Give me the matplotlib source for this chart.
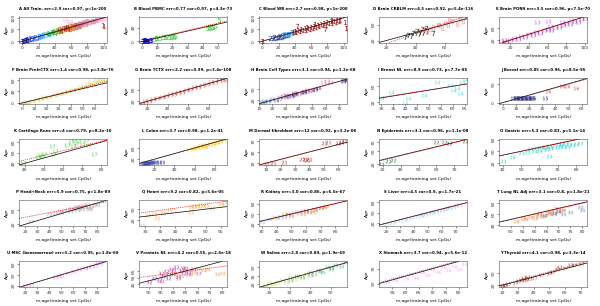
import matplotlib
matplotlib.use('Agg')
import matplotlib.pyplot as plt

# panel titles
titles = [
    'A All Train. err=2.9 cor=0.97, p<1e-200',
    'B Blood PBMC err=0.77 cor=0.97, p=4.3e-73',
    'C Blood WB err=2.7 cor=0.98, p<1e-200',
    'D Brain CRBLM err=4.5 cor=0.92, p=5.4e-116',
    'E Brain PONS err=3.5 cor=0.96, p=7.5e-70',
    'F Brain PrefrCTX err=1.4 cor=0.98, p=3.8e-76',
    'G Brain TCTX err=2.2 cor=0.99, p=3.4e-108',
    'H Brain Cell Types err=3.1 cor=0.94, p=1.2e-68',
    'I Breast NL err=8.9 cor=0.73, p=7.7e-85',
    'J Buccal err=0.85 cor=0.96, p=8.5e-95',
    'K Cartilage Knee err=4 cor=0.79, p=8.2e-10',
    'L Colon err=3.7 cor=0.98, p=1.2e-41',
    'M Dermal fibroblast err=12 cor=0.92, p=3.2e-06',
    'N Epidermis err=3.1 cor=0.96, p=1.1e-08',
    'O Gastric err=5.3 cor=0.83, p=5.1e-14',
    'P Head+Neck err=5.9 cor=0.75, p=1.8e-89',
    'Q Heart err=9.2 cor=0.82, p=5.6e-05',
    'R Kidney err=3.0 cor=0.86, p=6.5e-67',
    'S Liver err=4.5 cor=0.9, p=1.7e-21',
    'T Lung NL Adj err=3.1 cor=0.8, p=1.8e-21',
    'U MSC (bonemarrow) err=5.2 cor=0.95, p=1.8e-60',
    'V Prostate NL err=4.2 cor=0.55, p=2.6e-18',
    'W Saliva err=2.8 cor=0.89, p=1.9e-69',
    'X Stomach err=3.7 cor=0.94, p=5.6e-12',
    'Y Thyroid err=4.1 cor=0.98, p=3.3e-14',
]

xlims = [(-4, 104), (-2, 56), (-4, 104), (15, 75), (8, 102),
         (-3, 70), (12, 98), (10, 76), (29, 66), (-3, 64),
         (37, 83), (5, 92), (5, 66), (28, 77), (38, 86),
         (15, 88), (28, 57), (28, 88), (15, 78), (45, 82),
         (15, 88), (46, 82), (15, 58), (50, 83), (18, 74)]
ylims = [(-5, 105), (-3, 72), (-5, 105), (15, 80), (12, 100),
         (-3, 88), (12, 100), (10, 80), (15, 82), (-3, 66),
         (37, 86), (0, 92), (5, 75), (18, 78), (15, 82),
         (15, 88), (3, 75), (15, 90), (12, 85), (38, 85),
         (15, 88), (40, 80), (15, 60), (45, 80), (15, 78)]
xticks = [[0, 20, 40, 60, 80, 100], [0, 10, 20, 30, 40, 50], [0, 20, 40, 60, 80, 100],
          [20, 40, 60], [20, 40, 60, 80, 100],
          [0, 10, 20, 30, 40, 50, 60], [20, 40, 60, 80], [10, 20, 30, 40, 50, 60, 70],
          [30, 35, 40, 45, 50, 55, 60, 65], [0, 10, 20, 30, 40, 50, 60],
          [40, 50, 60, 70, 80], [20, 40, 60, 80], [10, 20, 30, 40, 50, 60],
          [30, 40, 50, 60, 70], [40, 50, 60, 70, 80],
          [20, 30, 40, 50, 60, 70, 80], [30, 35, 40, 45, 50, 55], [30, 40, 50, 60, 70, 80],
          [20, 30, 40, 50, 60, 70], [50, 55, 60, 65, 70, 75, 80],
          [20, 30, 40, 50, 60, 70, 80], [50, 55, 60, 65, 70, 75, 80], [20, 30, 40, 50],
          [55, 60, 65, 70, 75, 80], [20, 30, 40, 50, 60, 70]]
yticks = [[0, 50, 100], [0, 40], [0, 50, 100], [20, 60], [20, 60],
          [0, 40, 80], [20, 60], [20, 50], [20, 60], [0, 50],
          [40, 60, 80], [20, 60], [10, 40, 70], [20, 50, 70], [20, 50, 80],
          [20, 60], [20, 50], [20, 50, 80], [20, 50, 80], [40, 60, 80],
          [20, 50, 80], [45, 55, 65], [20, 35, 50], [50, 70], [20, 50]]

# red dotted regression line: (slope, intercept)
reg_lines = [(0.97, 1), (1.05, 0.5), (0.97, 1), (1.27, -13), (0.98, 1),
             (1.08, 0), (1.0, 0), (1.0, 0), (0.95, 3), (0.97, 0),
             (0.88, 11), (1.0, 0), (1.02, -1), (1.02, -2), (1.0, 0),
             (0.64, 27), (1.14, 7), (1.0, 0), (1.0, 0), (0.95, 3),
             (1.0, 0), (0.5, 32), (1.0, 0), (1.0, 1), (1.05, 0)]

# points per panel: (colour, dataset label, m.age values, age values)
pts_a = [
    ('#1a1aa6', '1', [0, 1, 1, 2, 3, 4, 5, 6, 7, 9], [1, 0, 3, 2, 4, 5, 4, 8, 6, 9]),
    ('#3366ff', '2', [10, 12, 13, 15, 16, 18, 20, 21, 23, 25], [12, 10, 15, 14, 18, 16, 22, 19, 24, 27]),
    ('#33ccff', '3', [22, 25, 27, 29, 31, 33, 35, 37], [24, 22, 30, 27, 33, 30, 38, 34]),
    ('#2ca02c', '4', [30, 33, 36, 38, 40, 42, 44, 46, 48], [35, 31, 38, 42, 37, 45, 40, 48, 44]),
    ('#99cc33', '5', [40, 43, 45, 48, 50, 52, 55, 57], [44, 48, 42, 52, 47, 55, 51, 60]),
    ('#d62728', '6', [45, 48, 50, 53, 55, 58, 60, 62, 64, 66, 68, 70], [50, 45, 55, 50, 58, 54, 62, 58, 66, 61, 70, 65]),
    ('#8b1a1a', '7', [52, 55, 57, 60, 63, 65, 67, 70, 72, 75], [55, 60, 53, 63, 59, 68, 64, 73, 69, 78]),
    ('#ff9933', '8', [60, 62, 65, 68, 70, 73, 75, 78, 80], [57, 65, 62, 70, 67, 75, 72, 80, 76]),
    ('#cc66cc', '9', [65, 68, 72, 75, 78, 80, 83, 85, 88, 90], [70, 66, 75, 79, 74, 84, 80, 88, 84, 92]),
    ('#ff99cc', '10', [75, 78, 82, 85, 88, 90, 93, 95, 98, 100, 53, 58], [80, 77, 86, 82, 90, 87, 94, 91, 98, 96, 90, 86]),
    ('#c8a064', '11', [48, 58, 62, 70, 78, 85], [58, 72, 55, 60, 88, 80]),
    ('#d62728', '1', [100, 99], [63, 70]),
]
pts_b = [
    ('#0000cc', '3', [0, 0.5, 1, 1.5, 2, 2.5, 3, 3.5, 4, 1, 2, 3, 5, 6], [0.5, 1, 0, 1.5, 1, 2, 1, 2.5, 2, 3, 3, 0.5, 3, 4]),
    ('#33cc33', '5', [8, 9, 10, 12, 14, 15, 16, 18, 19, 20, 21, 22], [8, 10, 9, 11, 12, 13, 12, 14, 13, 15, 14, 16]),
    ('#33cc33', '5', [43, 44, 45, 46, 47, 48, 51], [38, 41, 40, 43, 42, 44, 62]),
]
pts_c = [
    ('#d62728', '1', [0, 1], [0, 1]),
    ('#1a3399', '2', [10, 13, 15, 17, 19, 20, 22, 24, 25, 27, 29, 31, 33], [15, 12, 17, 15, 20, 18, 22, 20, 26, 24, 28, 27, 31]),
    ('#33aaff', '3', [24, 27, 30, 32, 35, 37, 39], [27, 30, 33, 31, 38, 36, 41]),
    ('#a01515', '1', [38, 40, 42, 44, 46, 48, 50, 52, 54, 56, 58, 60, 62, 64, 66, 68, 70, 72, 74, 76, 78, 80, 82, 84, 86, 88, 90, 92, 94, 96],
     [40, 44, 39, 47, 43, 50, 46, 55, 49, 58, 54, 62, 57, 66, 60, 70, 64, 73, 69, 77, 71, 80, 76, 84, 78, 86, 82, 89, 85, 90]),
    ('#a01515', '7', [43, 77], [63, 54]),
    ('#a01515', '1', [101, 103, 55, 65, 85], [80, 58, 62, 72, 92]),
]
pts_d = [
    ('#222222', '7', [33, 35, 37, 38, 40, 41, 42, 43, 44, 45, 46, 47, 48, 52], [30, 35, 32, 40, 38, 45, 36, 42, 50, 40, 47, 52, 44, 38]),
    ('#ff9999', '8', [40, 45, 48, 52, 55, 58, 60, 62, 65, 68, 70, 72, 74, 50, 56, 63], [45, 50, 42, 55, 60, 52, 65, 58, 70, 62, 75, 68, 78, 48, 58, 72]),
]
pts_e = [
    ('#9933cc', '13', [10, 13, 16, 20, 24, 28, 32, 36, 40, 44, 48, 52, 56, 60, 64, 68, 72, 76, 80, 84, 88, 92, 96, 100],
     [16, 20, 15, 22, 26, 24, 33, 30, 40, 37, 47, 44, 54, 58, 55, 66, 63, 72, 78, 75, 86, 83, 92, 95]),
    ('#bb55ee', '13', [49, 60, 62, 75, 85], [80, 84, 68, 80, 88]),
]
pts_f = [
    ('#bbdd44', '14', [0, 2, 4, 8, 12, 15, 18, 22, 26, 30, 34, 38, 42, 45, 48, 50, 52, 54, 56, 58, 60, 62, 64, 66, 68],
     [0, 3, 2, 7, 12, 14, 20, 22, 28, 31, 36, 40, 45, 50, 57, 60, 55, 65, 70, 62, 72, 80, 75, 84, 78]),
]
pts_g = [
    ('#ee4433', '15', [15, 18, 22, 26, 30, 34, 38, 42, 46, 50, 54, 58, 62, 66, 70, 74, 78, 82, 86, 90, 94, 96],
     [16, 20, 21, 28, 30, 35, 37, 44, 45, 52, 53, 60, 61, 68, 69, 76, 77, 84, 85, 92, 93, 97]),
]
pts_h = [
    ('#3366cc', '16', [12, 14, 17, 20, 23, 26, 30, 34], [14, 18, 16, 22, 20, 27, 28, 33]),
    ('#cc3333', '17', [25, 28, 32, 36, 40, 44, 48], [24, 30, 31, 38, 36, 44, 45]),
    ('#9933aa', '18', [30, 35, 38, 42, 46, 50, 54], [33, 32, 40, 41, 48, 47, 52]),
    ('#000080', '19', [36, 44, 52, 73, 74], [37, 42, 50, 72, 75]),
    ('#ff66aa', '13', [58, 61, 63], [68, 70, 69]),
]
pts_i = [
    ('#33dddd', '14', [30, 34, 40, 41, 48, 53.5, 59, 60, 62, 64, 63, 65], [30, 46, 18, 30, 38, 72, 64, 51, 56, 72, 43, 78]),
]
pts_j = [
    ('#1a1a80', '15', [8, 9, 10, 11, 12, 13, 14, 15, 16, 17, 18, 19, 20, 21, 22, 23, 32],
     [12, 11, 12, 13, 11, 12, 13, 11, 12, 13, 12, 11, 12, 13, 12, 11, 12]),
    ('#dd4444', '16', [34, 45, 49, 56], [32, 43, 43, 38]),
]
pts_k = [
    ('#33cc33', '17', [39, 47, 48, 49, 50, 55, 56, 54, 62, 64, 65, 66, 67, 68, 70, 72, 73, 76],
     [41, 52, 55, 53, 57, 58, 63, 73, 75, 80, 72, 85, 78, 82, 76, 84, 74, 58]),
]
pts_l = [
    ('#3344aa', '18', [8, 9, 10, 11, 12, 13, 14, 15, 16, 17, 18, 20, 22, 25, 28],
     [4, 6, 5, 7, 6, 8, 7, 9, 8, 10, 9, 10, 11, 12, 10]),
    ('#ffcc00', '19', [55, 58, 60, 62, 65, 68, 70, 72, 75, 78, 80, 82, 85, 88, 66, 70],
     [55, 58, 62, 60, 66, 65, 72, 70, 76, 75, 80, 78, 84, 88, 70, 64]),
]
pts_m = [
    ('#aa2222', '21', [10, 15, 22, 35, 37, 38, 40, 50, 53, 60, 62, 64], [8, 10, 12, 20, 22, 19, 21, 65, 66, 63, 66, 70]),
]
pts_n = [
    ('#336633', '22', [29, 33, 36, 60, 64, 67, 76], [20, 28, 29, 70, 72, 68, 74]),
]
pts_o = [
    ('#22cccc', '23', [40, 45, 50, 53, 55, 57, 58, 60, 61, 62, 63, 64, 65, 66, 68, 70, 71, 72, 73, 74, 75, 76, 78, 80, 82, 65],
     [25, 35, 45, 48, 55, 52, 58, 50, 62, 56, 60, 55, 64, 58, 62, 66, 60, 70, 64, 72, 62, 68, 66, 70, 72, 38]),
]
pts_p = [
    ('#aaaaaa', '24', [25, 40, 45, 48, 50, 52, 55, 57, 58, 60, 62, 63, 64, 65, 66, 67, 68, 70, 71, 72, 73, 75, 78, 80],
     [30, 50, 52, 58, 55, 60, 62, 58, 66, 63, 68, 60, 70, 65, 72, 62, 74, 68, 76, 70, 64, 72, 78, 74]),
    ('#cc99cc', '24', [58, 62, 66, 70, 74], [64, 70, 68, 72, 66]),
]
pts_q = [
    ('#ffaa33', '25', [29, 31, 33, 34, 36, 38, 45, 45, 46, 47, 48, 49, 50, 52, 55, 56],
     [5, 35, 38, 25, 40, 45, 55, 43, 60, 58, 61, 59, 62, 52, 65, 70]),
]
pts_r = [
    ('#99bbee', '26', [30, 35, 40, 42, 45, 48, 50, 52, 55, 58, 60, 62, 65, 68, 70], [28, 35, 38, 45, 42, 50, 47, 55, 52, 58, 62, 56, 64, 66, 70]),
    ('#ffaa44', '26', [38, 45, 50, 55, 58, 62, 65, 70, 74], [40, 50, 45, 55, 50, 60, 55, 68, 72]),
    ('#cc7755', '26', [48, 60, 66, 72], [50, 58, 62, 70]),
]
pts_s = [
    ('#88ccee', '27', [20, 24, 28, 32, 36, 40, 44, 46, 48, 50, 52, 54, 56, 58, 60, 62, 64, 66, 68, 70, 72],
     [18, 22, 26, 30, 33, 38, 40, 45, 44, 50, 48, 55, 52, 58, 56, 60, 62, 65, 62, 70, 72]),
]
pts_t = [
    ('#ee8844', '28', [52, 55, 56, 58, 60, 62, 64, 66, 68, 70, 72], [48, 52, 50, 54, 52, 58, 56, 62, 60, 66, 68]),
    ('#cc9966', '29', [60, 62, 63, 65, 66, 67, 68, 69, 70, 71], [58, 62, 56, 64, 60, 66, 62, 70, 64, 68]),
    ('#6688cc', '30', [64, 68, 70, 72, 75, 79, 80], [58, 62, 66, 60, 64, 72, 68]),
]
pts_u = [
    ('#dd88dd', '31', [20, 25, 45, 48, 50, 55, 60, 65, 70, 72, 75, 78, 80, 82], [20, 22, 45, 47, 50, 55, 60, 66, 70, 72, 76, 78, 82, 84]),
]
pts_v = [
    ('#993399', '32', [50, 52, 54, 55, 56, 57, 58, 59, 60, 61, 62, 63, 64, 65, 66], [48, 55, 52, 62, 58, 65, 55, 68, 60, 72, 58, 66, 62, 70, 64]),
    ('#cc44aa', '33', [55, 58, 60, 62, 64, 66, 68, 70], [50, 60, 66, 54, 70, 60, 68, 62]),
    ('#ff9944', '34', [60, 63, 65, 67, 68, 70, 72, 74, 78, 80], [62, 58, 66, 60, 64, 70, 66, 68, 60, 62]),
]
pts_w = [
    ('#bbdd55', '35', [18, 20, 22, 24, 26, 28, 30, 32, 34, 36, 38], [18, 22, 20, 25, 28, 24, 32, 30, 35, 33, 38]),
    ('#66bb66', '35', [30, 33, 36, 40, 42, 44, 46, 48, 50], [28, 35, 32, 42, 38, 45, 42, 50, 46]),
    ('#55aaaa', '35', [40, 45, 50, 52, 55, 57], [36, 44, 48, 54, 52, 58]),
]
pts_x = [
    ('#ffaaee', '36', [53, 56, 58, 60, 62, 64, 66, 68, 70, 72, 74, 76, 78, 80, 82], [52, 55, 60, 57, 63, 58, 66, 62, 70, 65, 72, 68, 74, 70, 76]),
]
pts_y = [
    ('#aa3322', '37', [20, 21, 22, 30, 32, 33, 34, 35, 36, 37, 50, 52, 55, 56, 63, 66], [18, 20, 19, 30, 33, 38, 32, 36, 40, 34, 50, 52, 60, 64, 68, 70]),
    ('#cc6655', '37', [24, 28, 40, 45, 60, 70], [22, 26, 38, 46, 62, 72]),
]
points = [pts_a, pts_b, pts_c, pts_d, pts_e, pts_f, pts_g, pts_h, pts_i, pts_j,
          pts_k, pts_l, pts_m, pts_n, pts_o, pts_p, pts_q, pts_r, pts_s, pts_t,
          pts_u, pts_v, pts_w, pts_x, pts_y]

fig = plt.figure(figsize=(6, 3.06), dpi=100)

for i in range(25):
    r, c = i // 5, i % 5
    ax = fig.add_axes([(c * 120 + 19) / 600, 1 - (r * 61.2 + 42.5) / 306, 88 / 600, 26 / 306])
    for col, lab, xs, ys in points[i]:
        ax.scatter(xs, ys, marker='$%s$' % lab, s=14, color=col, linewidths=0)
    ax.axline((0, 0), slope=1, color='black', lw=0.5)
    a, b = reg_lines[i]
    ax.axline((0, b), slope=a, color='red', lw=0.5, linestyle=(0, (1.5, 1.5)))
    ax.set_xlim(xlims[i])
    ax.set_ylim(ylims[i])
    ax.set_xticks(xticks[i])
    ax.set_yticks(yticks[i])
    ax.tick_params(labelsize=3.2, length=1.5, width=0.4, pad=1, colors='#333333')
    for lbl in ax.get_yticklabels():
        lbl.set_rotation(90)
        lbl.set_va('center')
    for s in ax.spines.values():
        s.set_linewidth(0.4)
        s.set_color('#555555')
    ax.set_title(titles[i], fontsize=2.75, fontweight='bold', pad=5)
    ax.set_xlabel('m.age(training set CpGs)', fontsize=3.2, labelpad=3)
    ax.set_ylabel('Age', fontsize=3.2, labelpad=2)

fig.savefig('out.png', dpi=100)
